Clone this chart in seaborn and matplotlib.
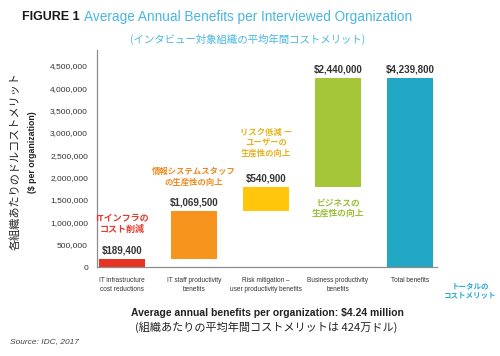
import numpy as np
import pandas as pd
import matplotlib
matplotlib.use("Agg")
import matplotlib.pyplot as plt
import seaborn as sns

# data
categories = ["IT infrastructure\ncost reductions", "IT staff productivity\nbenefits",
              "Risk mitigation –\nuser productivity benefits", "Business productivity\nbenefits",
              "Total benefits"]
benefits = [189400, 1069500, 540900, 2440000]
total = 4239800
notes_jp = ["ITインフラの\nコスト削減", "情報システムスタッフ\nの生産性の向上",
            "リスク低減 ー\nユーザーの\n生産性の向上", "ビジネスの\n生産性の向上",
            "トータルの\nコストメリット"]
bar_colors = ["#e63323", "#f7941d", "#ffc60b", "#a6c639", "#22a8c4"]
note_colors = ["#e23a2e", "#ee8a1f", "#e6b21a", "#9cbf3b", "#2aaad2"]
yticks = [0, 500000, 1000000, 1500000, 2000000, 2500000, 3000000, 3500000, 4000000, 4500000]

heights = benefits + [total]
bottoms = list(np.cumsum([0] + benefits[:-1])) + [0]
df = pd.DataFrame({"cat": categories, "value": heights, "base": bottoms})

sns.set_style("white")
SANS = ["Liberation Sans", "DejaVu Sans"]
JP = ["Noto Sans CJK JP", "DejaVu Sans"]
plt.rcParams["font.family"] = SANS

fig = plt.figure(figsize=(5, 3.56), dpi=100)
ax = fig.add_axes([0.194, 0.25, 0.68, 0.61])

sns.barplot(data=df, x="cat", y="value", bottom=df["base"].to_numpy(), width=0.64,
            errorbar=None, saturation=1, color="#999999", ax=ax)
for patch, c in zip(ax.patches, bar_colors):
    patch.set_facecolor(c)
    patch.set_edgecolor("none")

ax.set_xlim(-0.347, 4.375)
ax.set_ylim(0, 4.86e6)
ax.set_yticks(yticks)
ax.set_yticklabels([f"{v:,}" for v in yticks], fontsize=6, color="#333333")
ax.set_xticks(range(len(categories)))
ax.set_xticklabels(categories, fontsize=4.7, color="#333333", linespacing=1.35)
ax.tick_params(axis="both", length=0)
ax.tick_params(axis="y", pad=6.5)
ax.tick_params(axis="x", pad=7.5)
for s in ["top", "right"]:
    ax.spines[s].set_visible(False)
for s in ["left", "bottom"]:
    ax.spines[s].set_color("#8c8c8c")
    ax.spines[s].set_linewidth(0.9)

# value labels and japanese notes (offset in points, size, line spacing)
note_layout = [(17.5, 6.5, 1.2), (17.5, 6, 1.15), (21, 6, 1.15), (-9, 6.3, 1.15)]
for i, (h, b) in enumerate(zip(heights, bottoms)):
    top = h + b
    ax.annotate(f"${h:,}", (i, top), xytext=(0, 2.5), textcoords="offset points",
                ha="center", va="bottom", fontsize=7, fontweight="bold", color="#333333")
    if i >= len(note_layout):
        continue
    off, size, ls = note_layout[i]
    anchor = top if off > 0 else b
    ax.annotate(notes_jp[i], (i, anchor), xytext=(0, off), textcoords="offset points",
                ha="center", va="bottom" if off > 0 else "top", fontsize=size,
                fontweight="bold", color=note_colors[i], family=JP, linespacing=ls)

fig.text(0.941, 0.184, notes_jp[4], ha="center", va="center", fontsize=5.4, fontweight="bold",
         color=note_colors[4], family=JP, linespacing=1.4)

# axis titles
ax.set_xlabel("Average annual benefits per organization: $4.24 million", fontsize=7.5,
              fontweight="bold", color="#222222", labelpad=11)
fig.text(0.532, 0.082, "(組織あたりの平均年間コストメリットは 424万ドル)", ha="center", va="center",
         fontsize=8, color="#222222", family=JP)
ax.set_ylabel("($ per organization)", fontsize=6.3, fontweight="bold", color="#222222")
ax.yaxis.set_label_coords(-0.176, 0.53)
fig.text(0.03, 0.548, "各組織あたりのドルコストメリット", rotation=90, ha="center", va="center",
         fontsize=8, color="#222222", family=JP)

# title
fig.text(0.044, 0.952, "FIGURE 1", fontsize=9, fontweight="bold", color="#1a1a1a",
         va="center")
fig.text(0.168, 0.952, "Average Annual Benefits per Interviewed Organization", fontsize=9.8,
         color="#49b6e3", va="center")
fig.text(0.496, 0.888, "(インタビュー対象組織の平均年間コストメリット)", fontsize=7.5,
         color="#49b6e3", family=JP, ha="center", va="center")

fig.text(0.02, 0.04, "Source: IDC, 2017", fontsize=6, style="italic", color="#444444",
         va="center")

fig.savefig("out.png", dpi=100)
